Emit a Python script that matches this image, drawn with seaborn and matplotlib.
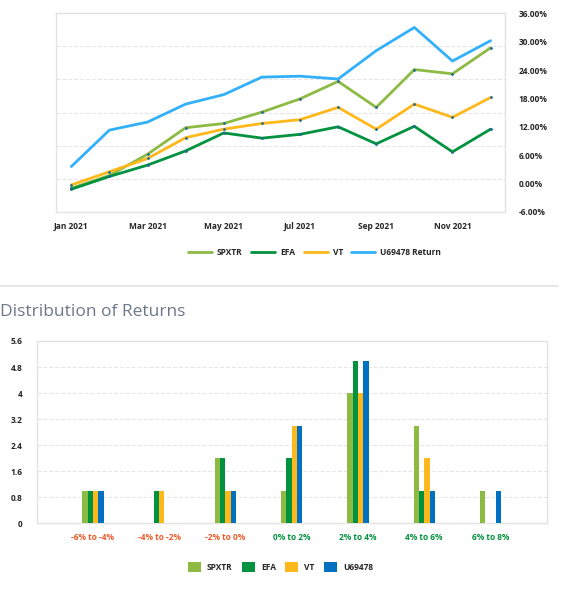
import numpy as np
import pandas as pd
import seaborn as sns
from matplotlib import pyplot as plt
from matplotlib.patches import Patch
from matplotlib.lines import Line2D

# Cumulative returns (%) per month
months = ['Jan 2021', 'Feb 2021', 'Mar 2021', 'Apr 2021', 'May 2021', 'Jun 2021',
          'Jul 2021', 'Aug 2021', 'Sep 2021', 'Oct 2021', 'Nov 2021', 'Dec 2021']
spxtr = [-1.0, 1.7, 6.2, 11.8, 12.7, 15.1, 17.9, 21.6, 16.1, 24.1, 23.2, 28.7]
efa = [-1.2, 1.5, 3.9, 6.9, 10.7, 9.6, 10.4, 12.0, 8.4, 12.1, 6.7, 11.5]
vt = [-0.3, 2.5, 5.3, 9.7, 11.5, 12.7, 13.5, 16.1, 11.5, 16.8, 14.0, 18.2]
u69478_return = [3.6, 11.3, 13.0, 16.8, 18.8, 22.5, 22.7, 22.1, 28.1, 33.0, 25.9, 30.2]
return_ticks = [-6, 0, 6, 12, 18, 24, 30, 36]
month_ticks = ['Jan 2021', 'Mar 2021', 'May 2021', 'Jul 2021', 'Sep 2021', 'Nov 2021']

# Distribution of monthly returns
ranges = ['-6% to -4%', '-4% to -2%', '-2% to 0%', '0% to 2%', '2% to 4%', '4% to 6%', '6% to 8%']
dist_spxtr = [1, 0, 2, 1, 4, 3, 1]
dist_efa = [1, 1, 2, 2, 5, 1, 0]
dist_vt = [1, 1, 1, 3, 4, 2, 0]
dist_u69478 = [1, 0, 1, 3, 5, 1, 1]
count_ticks = [0, 0.8, 1.6, 2.4, 3.2, 4, 4.8, 5.6]

line_colors = {'SPXTR': '#8dba43', 'EFA': '#00923f', 'VT': '#ffb81c', 'U69478 Return': '#33b0fb'}
bar_colors = {'SPXTR': '#8dba43', 'EFA': '#00923f', 'VT': '#ffb81c', 'U69478': '#0070c0'}
frame_color = '#e3e3e3'
grid_color = '#e6e6e6'

sns.set_style('white')
plt.rcParams['font.family'] = ['Open Sans', 'DejaVu Sans']

fig = plt.figure(figsize=(5.72, 5.92), dpi=100)

# ---- Top: cumulative returns ----
df_lines = pd.DataFrame({'month': np.arange(len(months)), 'SPXTR': spxtr, 'EFA': efa,
                         'VT': vt, 'U69478 Return': u69478_return})
df_lines = df_lines.melt(id_vars='month', var_name='series', value_name='value')

ax1 = fig.add_axes([0.098, 0.642, 0.785, 0.3356])
sns.lineplot(data=df_lines, x='month', y='value', hue='series', palette=line_colors,
             linewidth=2, ax=ax1, legend=False, zorder=3)
sns.scatterplot(data=df_lines[df_lines['series'] != 'U69478 Return'], x='month', y='value',
                color='#1f6a8f', s=4, linewidth=0, ax=ax1, legend=False, zorder=4)

ax1.set_ylim(-6, 36)
ax1.set_xlim(-0.4, 11.38)
ax1.yaxis.tick_right()
ax1.set_yticks(return_ticks)
ax1.set_yticklabels([f'{t:.2f}%' for t in return_ticks])
ax1.set_xticks([months.index(m) for m in month_ticks])
ax1.set_xticklabels(month_ticks)
ax1.tick_params(axis='y', length=0, pad=10, labelsize=6)
ax1.tick_params(axis='x', length=0, pad=7, labelsize=6)
for lbl in ax1.get_xticklabels() + ax1.get_yticklabels():
    lbl.set_fontweight('bold')
ax1.set_xlabel('')
ax1.set_ylabel('')

# dashed grid from the hidden category axis (6 equal divisions)
for g in np.linspace(-6, 36, 7)[1:-1]:
    ax1.axhline(g, color=grid_color, linestyle='--', linewidth=0.8, zorder=1)

for spine in ax1.spines.values():
    spine.set_color(frame_color)
    spine.set_linewidth(1)

line_handles = [Line2D([0], [0], color=c, lw=2) for c in line_colors.values()]
fig.legend(line_handles, list(line_colors.keys()), loc='center', bbox_to_anchor=(0.55, 0.573),
           ncol=4, frameon=False, handlelength=2.9, handletextpad=0.6, columnspacing=1.0,
           prop={'size': 6, 'weight': 'bold'})

# separator and section title
fig.add_artist(Line2D([0, 0.975], [0.517, 0.517], color='#e3e3e3', lw=1.2, transform=fig.transFigure))
fig.text(0.0, 0.473, 'Distribution of Returns', fontsize=12.5, color='#6b7888', va='center', ha='left')

# ---- Bottom: distribution ----
df_bars = pd.DataFrame({'range': ranges, 'SPXTR': dist_spxtr, 'EFA': dist_efa,
                        'VT': dist_vt, 'U69478': dist_u69478})
df_bars = df_bars.melt(id_vars='range', var_name='series', value_name='count')

ax2 = fig.add_axes([0.064, 0.116, 0.892, 0.308])
sns.barplot(data=df_bars, x='range', y='count', hue='series', palette=bar_colors,
            width=0.32, gap=0, linewidth=0, edgecolor='none', saturation=1,
            ax=ax2, legend=False, zorder=3)

ax2.set_ylim(0, 5.6)
ax2.set_xlim(-0.85, 6.85)
ax2.set_yticks(count_ticks)
ax2.set_yticklabels([f'{t:g}' for t in count_ticks])
ax2.tick_params(axis='y', length=0, pad=10, labelsize=6)
ax2.tick_params(axis='x', length=0, pad=7, labelsize=6)
for lbl in ax2.get_yticklabels():
    lbl.set_fontweight('bold')
for lbl, r in zip(ax2.get_xticklabels(), ranges):
    lbl.set_fontweight('bold')
    lbl.set_color('#f05a28' if r.startswith('-') else '#00923f')
ax2.set_xlabel('')
ax2.set_ylabel('')

for g in count_ticks[1:-1]:
    ax2.axhline(g, color=grid_color, linestyle='--', linewidth=0.8, zorder=1)

for spine in ax2.spines.values():
    spine.set_color(frame_color)
    spine.set_linewidth(1)

bar_handles = [Patch(facecolor=c, edgecolor='none') for c in bar_colors.values()]
fig.legend(bar_handles, list(bar_colors.keys()), loc='center', bbox_to_anchor=(0.49, 0.042),
           ncol=4, frameon=False, handlelength=1.6, handleheight=1.6, handletextpad=0.7,
           columnspacing=1.1, prop={'size': 6, 'weight': 'bold'})

fig.savefig('out.png', dpi=100)
plt.close()
